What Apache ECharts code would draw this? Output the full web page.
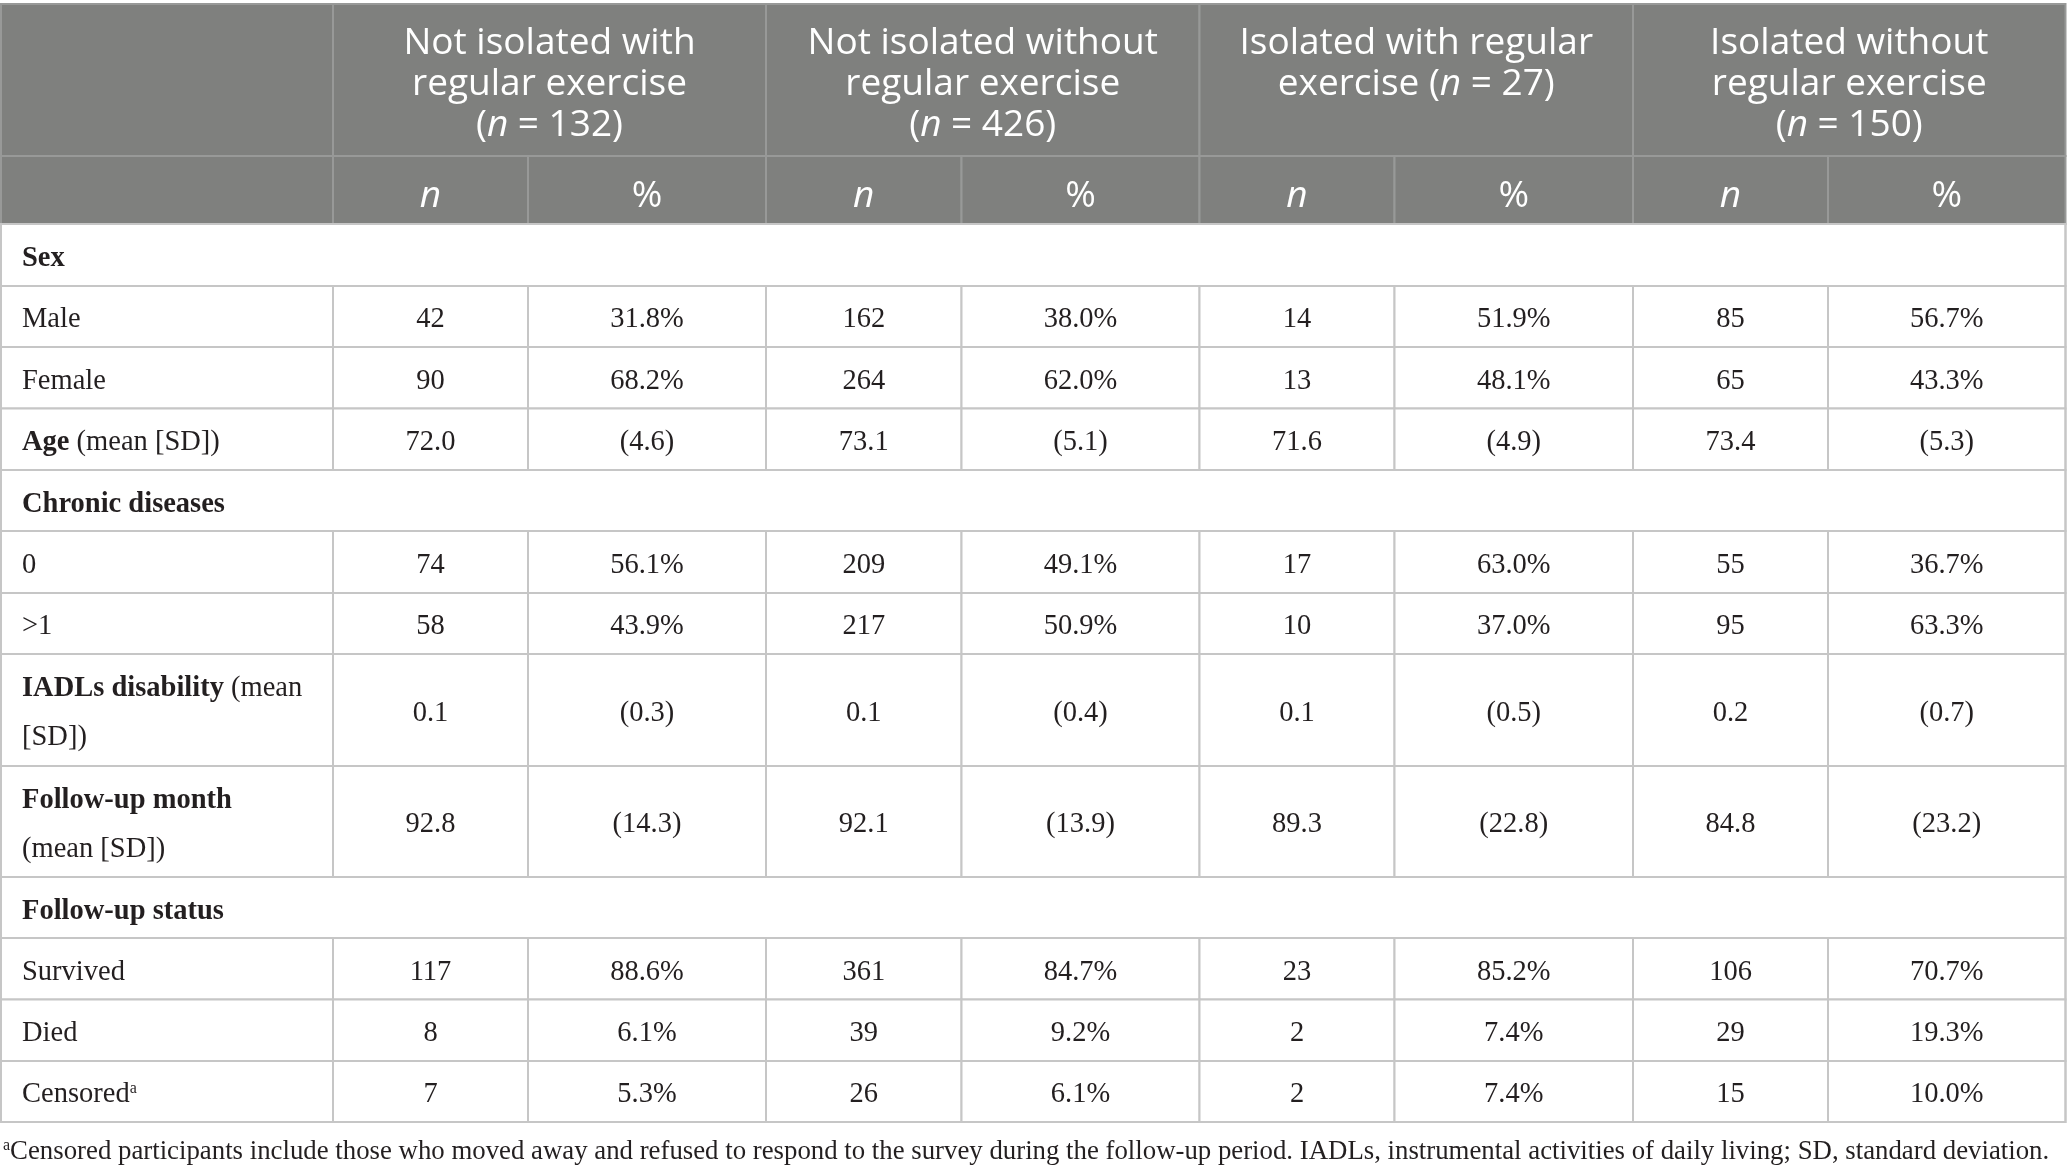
<!DOCTYPE html>
<html>
<head>
<meta charset="utf-8">
<script src="https://cdn.jsdelivr.net/npm/echarts@6/dist/echarts.min.js"></script>
<style>
html,body{margin:0;padding:0;background:#ffffff;}
#chart{width:2067px;height:1174px;}
</style>
</head>
<body>
<div id="chart"></div>
<script>
// ---------------- data ----------------
const groupTitles = ['Not isolated with\nregular exercise\n', 'Not isolated without\nregular exercise\n', 'Isolated with regular\nexercise ', 'Isolated without\nregular exercise\n'];
const groupSizes = [132, 426, 27, 150];
const subHeaders = ['n', '%'];
const rowLabels = [
  '{b|Sex}', '{r|Male}', '{r|Female}', '{b|Age}{r| (mean [SD])}',
  '{b|Chronic diseases}', '{r|0}', '{r|>1}',
  '{b|IADLs disability}{r| (mean}\n{r|[SD])}',
  '{b|Follow-up month}\n{r|(mean [SD])}',
  '{b|Follow-up status}', '{r|Survived}', '{r|Died}', '{rs|Censored}{sup|a}'
];
const rowTypes = ['section','count','count','mean','section','count','count','mean','mean','section','count','count','count'];
// values per group for the data rows (Male, Female, Age, 0, >1, IADLs, Follow-up month, Survived, Died, Censored)
const notIsolatedWithN   = [42, 90, 72.0, 74, 58, 0.1, 92.8, 117, 8, 7];
const notIsolatedWithP   = [31.8, 68.2, 4.6, 56.1, 43.9, 0.3, 14.3, 88.6, 6.1, 5.3];
const notIsolatedWithoutN = [162, 264, 73.1, 209, 217, 0.1, 92.1, 361, 39, 26];
const notIsolatedWithoutP = [38.0, 62.0, 5.1, 49.1, 50.9, 0.4, 13.9, 84.7, 9.2, 6.1];
const isolatedWithN   = [14, 13, 71.6, 17, 10, 0.1, 89.3, 23, 2, 2];
const isolatedWithP   = [51.9, 48.1, 4.9, 63.0, 37.0, 0.5, 22.8, 85.2, 7.4, 7.4];
const isolatedWithoutN = [85, 65, 73.4, 55, 95, 0.2, 84.8, 106, 29, 15];
const isolatedWithoutP = [56.7, 43.3, 5.3, 36.7, 63.3, 0.7, 23.2, 70.7, 19.3, 10.0];
const footnote = 'Censored participants include those who moved away and refused to respond to the survey during the follow-up period. IADLs, instrumental activities of daily living; SD, standard deviation.';

const groupN = [notIsolatedWithN, notIsolatedWithoutN, isolatedWithN, isolatedWithoutN];
const groupP = [notIsolatedWithP, notIsolatedWithoutP, isolatedWithP, isolatedWithoutP];

// ---------------- layout ----------------
const colEdges = [1, 333, 528, 766, 961.5, 1199.5, 1394.5, 1633, 1828, 2065.5];
const rowEdges = [4, 156, 224, 286, 347, 408.5, 470, 531, 593, 654, 766, 877, 938, 999.5, 1061, 1122];
const noteBox = [0, 1128, 2067, 1174];

const HEAD_FILL = '#7f807e', HEAD_LINE = '#989998', BODY_LINE = '#c6c6c6', INK = '#231f20';
const SANS = '"Open Sans"', SERIF = '"Liberation Serif"';
const headRich = {
  h:  {font: '37px ' + SANS, fill: '#ffffff', lineHeight: 41},
  hi: {font: 'italic 37px ' + SANS, fill: '#ffffff', lineHeight: 41}
};
const bodyRich = {
  b:   {font: 'bold 28.5px ' + SERIF, fill: INK, lineHeight: 49},
  r:   {font: '28.5px ' + SERIF, fill: INK, lineHeight: 49},
  rs:  {font: '28.5px ' + SERIF, fill: INK, lineHeight: 28},
  f:   {font: '26.8px ' + SERIF, fill: INK, lineHeight: 28},
  sup: {font: '16px ' + SERIF, fill: INK, lineHeight: 16, verticalAlign: 'top'}
};
const kinds = {
  head:      {fill: HEAD_FILL, stroke: HEAD_LINE},
  headGroup: {fill: HEAD_FILL, stroke: HEAD_LINE, align: 'center', v: 'top', pad: 18.5, rich: headRich},
  headSub:   {fill: HEAD_FILL, stroke: HEAD_LINE, align: 'center', v: 'middle', dy: 6, rich: headRich},
  section:   {fill: '#ffffff', stroke: BODY_LINE, align: 'left', v: 'middle', padL: 21, dy: 4, rich: bodyRich},
  label:     {fill: '#ffffff', stroke: BODY_LINE, align: 'left', v: 'middle', padL: 21, dy: 3.5, rich: bodyRich},
  val:       {fill: '#ffffff', stroke: BODY_LINE, align: 'center', v: 'middle', dy: 3.5, rich: bodyRich},
  frame:     {fill: null, stroke: BODY_LINE},
  note:      {align: 'left', v: 'middle', padL: 3, dy: 1, rich: bodyRich}
};

// ---------------- build cells ----------------
const cells = [];
function addCell(c0, c1, r, text, kind) {
  cells.push({value: [colEdges[c0], rowEdges[r], colEdges[c1], rowEdges[r + 1]], text: text, kind: kind});
}
addCell(0, 1, 0, '', 'head');
groupTitles.forEach(function (t, g) {
  addCell(1 + 2 * g, 3 + 2 * g, 0, '{h|' + t + '(}{hi|n}{h| = ' + groupSizes[g] + ')}', 'headGroup');
});
addCell(0, 1, 1, '', 'head');
for (let g = 0; g < 4; g++) {
  addCell(1 + 2 * g, 2 + 2 * g, 1, '{hi|' + subHeaders[0] + '}', 'headSub');
  addCell(2 + 2 * g, 3 + 2 * g, 1, '{h|' + subHeaders[1] + '}', 'headSub');
}
let k = 0;
rowLabels.forEach(function (lab, i) {
  const r = 2 + i;
  if (rowTypes[i] === 'section') { addCell(0, 9, r, lab, 'section'); return; }
  addCell(0, 1, r, lab, 'label');
  for (let g = 0; g < 4; g++) {
    const nv = groupN[g][k], pv = groupP[g][k];
    const nTxt = rowTypes[i] === 'mean' ? nv.toFixed(1) : String(nv);
    const pTxt = rowTypes[i] === 'mean' ? '(' + pv.toFixed(1) + ')' : pv.toFixed(1) + '%';
    addCell(1 + 2 * g, 2 + 2 * g, r, '{r|' + nTxt + '}', 'val');
    addCell(2 + 2 * g, 3 + 2 * g, r, '{r|' + pTxt + '}', 'val');
  }
  k++;
});
cells.push({value: [colEdges[0], rowEdges[2], colEdges[9], rowEdges[rowEdges.length - 1]], text: '', kind: 'frame'});
cells.push({value: noteBox, text: '{sup|a}{f|' + footnote + '}', kind: 'note'});

// ---------------- chart ----------------
const chart = echarts.init(document.getElementById('chart'), null, {renderer: 'canvas'});
chart.setOption({
  animation: false,
  backgroundColor: '#ffffff',
  grid: {left: 0, right: 0, top: 0, bottom: 0},
  xAxis: {type: 'value', min: 0, max: 2067, show: false},
  yAxis: {type: 'value', min: 0, max: 1174, inverse: true, show: false},
  series: [{
    type: 'custom',
    silent: true,
    clip: false,
    encode: {x: [0, 2], y: [1, 3]},
    data: cells.map(function (c) { return c.value; }),
    renderItem: function (params, api) {
      const cell = cells[params.dataIndex];
      const st = kinds[cell.kind];
      const p0 = api.coord([api.value(0), api.value(1)]);
      const p1 = api.coord([api.value(2), api.value(3)]);
      const x0 = p0[0], y0 = p0[1], w = p1[0] - p0[0], h = p1[1] - p0[1];
      const children = [];
      if (st.fill !== undefined || st.stroke) {
        children.push({
          type: 'rect',
          shape: {x: x0, y: y0, width: w, height: h},
          style: {fill: st.fill || 'none', stroke: st.stroke || 'none', lineWidth: 2}
        });
      }
      if (cell.text) {
        const tx = st.align === 'left' ? x0 + (st.padL || 0) : x0 + w / 2;
        const ty = st.v === 'top' ? y0 + (st.pad || 0) : y0 + h / 2 + (st.dy || 0);
        children.push({
          type: 'text',
          style: {
            text: cell.text, x: tx, y: ty,
            align: st.align, verticalAlign: st.v,
            fill: INK, rich: st.rich
          }
        });
      }
      return {type: 'group', children: children};
    }
  }]
});
</script>
</body>
</html>
